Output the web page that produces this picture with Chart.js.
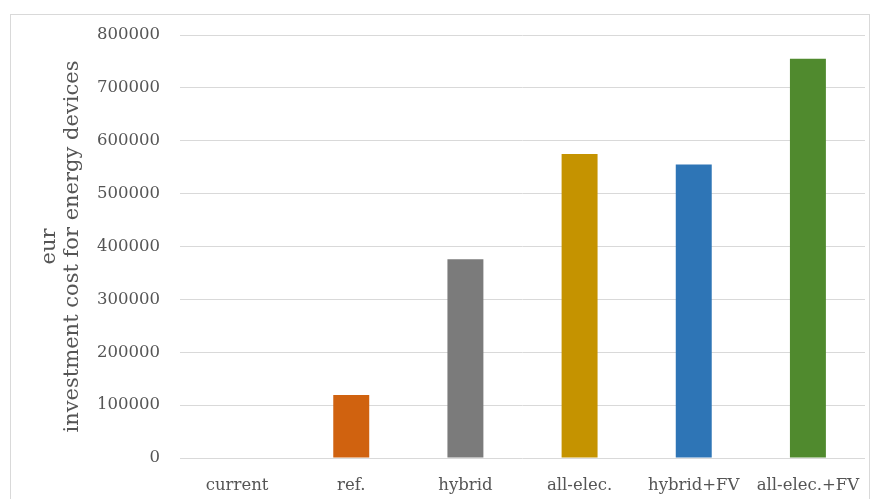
<!DOCTYPE html>
<html>
<head>
<meta charset="utf-8">
<script src="https://cdn.jsdelivr.net/npm/chart.js@4"></script>
<style>
  html, body { margin: 0; padding: 0; background: #ffffff; }
  #wrap { position: relative; width: 873px; height: 499px; }
</style>
</head>
<body>
<div id="wrap"><canvas id="chart" width="873" height="499"></canvas></div>
<script>
// Scenario names along the x axis
const categories = ['current', 'ref.', 'hybrid', 'all-elec.', 'hybrid+FV', 'all-elec.+FV'];
// Investment cost per scenario, in eur
const investmentCost = [0, 119000, 376000, 575000, 555000, 755000];
// One fill colour per scenario bar
const barColors = ['#4472C4', '#D0620F', '#7B7B7B', '#C59300', '#2E75B6', '#508A2E'];
// Y axis range and step
const yMin = 0;
const yMax = 800000;
const yStep = 100000;
const yTitle = ['eur', 'investment cost for energy devices'];

const serif = '"DejaVu Serif", "Liberation Serif", serif';
const textColor = '#555555';

// Thin light frame around the whole figure
const framePlugin = {
  id: 'frame',
  beforeDraw(chart) {
    const ctx = chart.ctx;
    ctx.save();
    ctx.strokeStyle = '#d9d9d9';
    ctx.lineWidth = 1;
    ctx.strokeRect(10.5, 14.5, 859, 500);
    ctx.restore();
  }
};

new Chart(document.getElementById('chart'), {
  type: 'bar',
  data: {
    labels: categories,
    datasets: [{
      data: investmentCost,
      backgroundColor: barColors,
      borderWidth: 0,
      categoryPercentage: 1,
      barPercentage: 0.315
    }]
  },
  options: {
    responsive: false,
    animation: false,
    devicePixelRatio: 1,
    layout: { padding: { top: 35, left: 38, right: 8, bottom: 0 } },
    plugins: { legend: { display: false }, tooltip: { enabled: false } },
    scales: {
      x: {
        grid: { display: false, drawTicks: false },
        border: { display: false },
        ticks: { color: textColor, font: { family: serif, size: 16.5 }, padding: 18, maxRotation: 0, autoSkip: false },
        afterFit(scale) {
          scale.height = 41;
          scale.paddingLeft = 0;
          scale.paddingRight = 0;
        }
      },
      y: {
        min: yMin,
        max: yMax,
        grid: { color: '#d9d9d9', drawTicks: false },
        border: { display: false },
        ticks: {
          stepSize: yStep,
          color: textColor,
          font: { family: serif, size: 16.5 },
          padding: 20,
          callback: (v) => String(v)
        },
        title: {
          display: true,
          text: yTitle,
          color: textColor,
          font: { family: serif, size: 21, lineHeight: 1.1 },
          padding: { top: 0, bottom: 0 }
        },
        afterFit(scale) {
          scale.width = 142;
          scale.paddingTop = 0;
          scale.paddingBottom = 0;
        }
      }
    }
  },
  plugins: [framePlugin]
});
</script>
</body>
</html>
